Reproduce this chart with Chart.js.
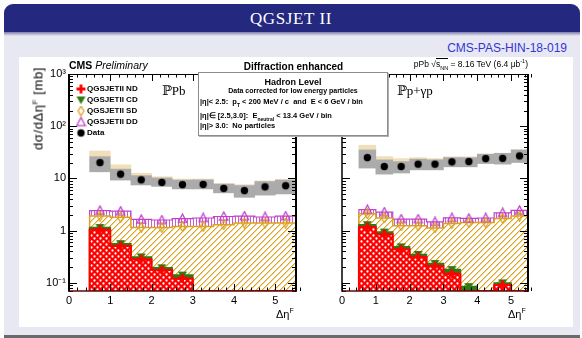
<!DOCTYPE html>
<html><head><meta charset="utf-8">
<script src="https://cdn.jsdelivr.net/npm/chart.js@4.4.0/dist/chart.umd.min.js"></script>
<style>
html,body{margin:0;padding:0;width:582px;height:338px;overflow:hidden;background:#fff;font-family:"Liberation Sans",Arial,sans-serif;}
.abs{position:absolute;}
#slide{left:4px;top:4px;width:576px;height:331px;background:#e8e8f3;border-radius:9px 9px 0 0;}
#titlebar{left:4px;top:4px;width:576px;height:28px;background:#25287f;border-radius:9px 9px 0 0;}
#shadow{left:4px;top:32px;width:576px;height:4px;background:linear-gradient(#7c7cab,#e8e8f3);}
#bottomline{left:4px;top:335px;width:576px;height:3px;background:#6a6a6a;}
#content{left:19px;top:57px;width:554px;height:270px;background:#fff;}
.t{position:absolute;line-height:1;white-space:nowrap;color:#000;}
.b{font-weight:bold;}
canvas{position:absolute;left:0;top:0;}
#hbox{left:198px;top:72px;width:188px;height:62px;background:#fff;border:1px solid #8c8c8c;box-shadow:1px 1px 0 #b0b0b0;}
sub,sup{line-height:0;}
</style>
</head><body>
<div id="slide" class="abs"></div>
<div id="titlebar" class="abs"></div>
<div id="shadow" class="abs"></div>
<div id="bottomline" class="abs"></div>
<div id="content" class="abs"></div>
<div class="t" style="left:0;width:582px;text-align:center;top:9.8px;font-family:'Liberation Serif',serif;font-size:17px;color:#fff;letter-spacing:0.6px;">QGSJET II</div>
<div class="t" style="right:15px;top:41.8px;font-size:12px;color:#3434d8;">CMS-PAS-HIN-18-019</div>

<canvas id="cL" width="582" height="338"></canvas>
<canvas id="cR" width="582" height="338"></canvas>

<div class="t" style="left:69px;top:60.1px;font-size:10.5px;"><b>CMS</b> <i>Preliminary</i></div>
<div class="t b" style="left:193.5px;width:200px;text-align:center;top:61.5px;font-size:10px;">Diffraction enhanced</div>
<div class="t" style="right:54px;top:60.2px;font-size:8.5px;">pPb <span>√</span><span style="border-top:0.8px solid #000;">s<sub style="font-size:5.5px">NN</sub></span> = 8.16 TeV (6.4 μb<sup style="font-size:5.5px">-1</sup>)</div>

<div id="hbox" class="abs"></div>
<div class="t b" style="left:198px;width:190px;text-align:center;top:78.4px;font-size:9px;">Hadron Level</div>
<div class="t b" style="left:198px;width:190px;text-align:center;top:86.6px;font-size:7px;">Data corrected for low energy particles</div>
<div class="t b" style="left:200px;top:97.9px;font-size:7.5px;">|η|&lt; 2.5:&nbsp; p<sub style="font-size:5px">T</sub> &lt; 200 MeV / c&nbsp; and&nbsp; E &lt; 6 GeV / bin</div>
<div class="t b" style="left:200px;top:111.6px;font-size:7.5px;">|η|∈ [2.5,3.0]:&nbsp; E<sub style="font-size:5px">neutral</sub> &lt; 13.4 GeV / bin</div>
<div class="t b" style="left:200px;top:121.6px;font-size:7.5px;">|η|&gt; 3.0:&nbsp; No particles</div>

<div class="t" style="left:162px;top:84px;font-family:'Liberation Serif','DejaVu Serif',serif;font-size:13px;">ℙPb</div>
<div class="t" style="left:397px;top:84px;font-family:'Liberation Serif','DejaVu Serif',serif;font-size:13px;">ℙp+γp</div>

<div class="t" style="left:-42px;top:101.5px;width:160px;text-align:center;font-size:13px;letter-spacing:0.6px;transform:rotate(-90deg);">dσ/dΔη<sup style="font-size:8px">F</sup> [mb]</div>
<div class="t" style="left:276px;top:308.6px;font-size:11px;">Δη<sup style="font-size:7px">F</sup></div>
<div class="t" style="left:508px;top:308.6px;font-size:11px;">Δη<sup style="font-size:7px">F</sup></div>

<div id="legend"></div>

<script>
// ---------- data ----------
const binEdges = [0.5,1.0,1.5,2.0,2.5,3.0,3.5,4.0,4.5,5.0,5.5];
const xTickValues = [0,1,2,3,4,5];
const yTickValues = [0.1,1,10,100,1000];
const yTickLabels = ['10⁻¹','1','10','10²','10³'];
const legendLabels = ['QGSJETII ND','QGSJETII CD','QGSJETII SD','QGSJETII DD','Data'];
const Y_MIN = 0.07, Y_MAX = 1000, X_MIN = 0, X_MAX = 5.5;

// Left panel: IPPb
const ppbData     = [20.1,12.1,9.4,8.4,7.6,7.7,6.45,5.85,6.9,7.25];
const ppbSysLow   = [13.4,9.3,7.5,7.05,6.3,6.3,5.3,4.35,4.8,5.05];
const ppbSysHigh  = [26.1,15.1,11.3,10.2,9.3,9.4,7.8,7.3,8.7,9.3];
const ppbModelTop = [33.6,18.2,12.6,10.8,9.75,9.75,8.0,7.6,9.0,9.6];
const ppbND = [1.04,0.51,0.285,0.176,0.122,0,0,0,0,0];
const ppbCD = [0.11,0.055,0.03,0.019,0.019,0,0,0,0,0];
const ppbSD = [0.75,1.235,0.835,0.955,1.06,1.2,1.3,1.4,1.4,1.4];
const ppbDD = [0.53,0.56,0.49,0.45,0.5,0.55,0.57,0.5,0.43,0.5];

// Right panel: IPp+γp
const pgpData     = [25.1,16.9,16.9,18.8,18.8,20.8,21.1,24.0,24.3,27.0];
const pgpSysLow   = [15.8,12.1,12.7,14.6,14.6,16.7,16.7,19.3,18.8,20.2];
const pgpSysHigh  = [35.1,22.7,21.0,23.4,22.7,25.1,25.0,29.1,30.3,35.1];
const pgpModelTop = [43.2,26.2,24.0,25.0,24.0,26.0,26.0,29.5,30.5,35.5];
const pgpND = [1.17,0.85,0.44,0.315,0.21,0.15,0,0,0.091,0];
const pgpCD = [0.13,0.09,0.05,0.035,0.025,0.03,0.085,0,0.009,0];
const pgpSD = [0.8,0.81,0.75,0.89,0.895,1.19,1.345,1.43,1.62,1.9];
const pgpDD = [0.42,0.52,0.43,0.43,0.35,0.39,0.29,0.32,0.48,0.55];

// ---------- styles ----------
const C_ND='#ff0000', C_CD='#2f7a12', C_SD='#dca21e', C_DD='#c040c8';
const centers = binEdges.slice(0,-1).map((e,i)=>(e+binEdges[i+1])/2);

function tile(w,h,draw){const c=document.createElement('canvas');c.width=w;c.height=h;draw(c.getContext('2d'),w,h);return c;}
function patterns(ctx){
  const nd = ctx.createPattern(tile(6,6,(g)=>{g.fillStyle=C_ND;g.fillRect(0,0,6,6);g.fillStyle='#fff';
    [[1.5,1.5],[4.5,4.5]].forEach(([x,y])=>{g.beginPath();g.arc(x,y,1.15,0,7);g.fill();});}),'repeat');
  const sd = ctx.createPattern(tile(6,6,(g)=>{g.fillStyle='#fff';g.fillRect(0,0,6,6);g.fillStyle=C_SD;
    for(let i=0;i<6;i++){g.fillRect(5-i,i,1,1);} 
    g.fillStyle='rgba(220,162,30,0.45)';for(let i=0;i<6;i++){g.fillRect((6-i)%6,i,1,1);} }),'repeat');
  const dd = ctx.createPattern(tile(3,3,(g)=>{g.fillStyle='#fff';g.fillRect(0,0,3,3);g.fillStyle='rgba(192,64,200,0.85)';g.fillRect(1,0,1,3);}),'repeat');
  return {nd,sd,dd};
}
function markerCanvas(kind){
  return tile(11,11,(g)=>{
    g.translate(5.5,5.5);
    if(kind==='plus'){g.fillStyle=C_ND;g.beginPath();
      const a=1.4,b=4.5;g.moveTo(-a,-b);g.lineTo(a,-b);g.lineTo(a,-a);g.lineTo(b,-a);g.lineTo(b,a);g.lineTo(a,a);g.lineTo(a,b);g.lineTo(-a,b);g.lineTo(-a,a);g.lineTo(-b,a);g.lineTo(-b,-a);g.lineTo(-a,-a);g.closePath();g.fill();}
    if(kind==='tdown'){g.fillStyle=C_CD;g.beginPath();g.moveTo(-4.5,-3.5);g.lineTo(4.5,-3.5);g.lineTo(0,4.2);g.closePath();g.fill();}
    if(kind==='diamond'){g.strokeStyle=C_SD;g.lineWidth=1.3;g.beginPath();g.moveTo(0,-4.8);g.lineTo(2.9,0);g.lineTo(0,4.8);g.lineTo(-2.9,0);g.closePath();g.stroke();}
    if(kind==='tup'){g.strokeStyle=C_DD;g.lineWidth=1.2;g.beginPath();g.moveTo(0,-4.6);g.lineTo(4.3,3.6);g.lineTo(-4.3,3.6);g.closePath();g.stroke();}
    if(kind==='dot'){g.fillStyle='#000';g.beginPath();g.arc(0,0,3.7,0,7);g.fill();}
  });
}
const MK = {nd:markerCanvas('plus'),cd:markerCanvas('tdown'),sd:markerCanvas('diamond'),dd:markerCanvas('tup'),data:markerCanvas('dot')};

function cumulate(...arrs){return arrs[0].map((_,i)=>arrs.reduce((s,a)=>s+a[i],0));}
function stepPts(vals){
  const n=binEdges.length-1, pts=[{x:binEdges[0],y:Y_MIN}];
  for(let i=0;i<n;i++) pts.push({x:binEdges[i],y:Math.max(vals[i],Y_MIN)});
  pts.push({x:binEdges[n],y:Math.max(vals[n-1],Y_MIN)});
  pts.push({x:binEdges[n],y:Y_MIN});
  return pts;
}
function markerPts(own,cum){return centers.map((x,i)=>({x,y:own[i]>0?cum[i]:null}));}

function buildDatasets(ctx,d){
  const P=patterns(ctx);
  const cND=d.nd, cCD=cumulate(d.nd,d.cd), cSD=cumulate(d.nd,d.cd,d.sd), cDD=cumulate(d.nd,d.cd,d.sd,d.dd);
  const step=(vals,fillPat,color,w,order)=>({type:'line',data:stepPts(vals),stepped:true,fill:'start',backgroundColor:fillPat,borderColor:color,borderWidth:w,pointRadius:0,order});
  const bar=(lo,hi,color,order)=>({type:'bar',data:centers.map((x,i)=>({x,y:[lo[i],hi[i]]})),backgroundColor:color,borderWidth:0,grouped:false,barPercentage:1,categoryPercentage:1,order});
  const mk=(pts,img,order)=>({type:'line',data:pts,showLine:false,pointStyle:img,pointRadius:5,order});
  return [
    bar(d.sysHigh,d.modelTop,'#f0dfb8',30),
    bar(d.sysLow,d.sysHigh,'#ababab',29),
    step(cDD,P.dd,C_DD,1.2,20),
    step(cSD,P.sd,C_SD,1.5,19),
    step(cCD,C_CD,C_CD,1.5,18),
    step(cND,P.nd,C_ND,2,17),
    mk(markerPts(d.dd,cDD),MK.dd,5),
    mk(markerPts(d.sd,cSD),MK.sd,4),
    mk(markerPts(d.cd,cCD),MK.cd,3),
    mk(markerPts(d.nd,cND),MK.nd,2),
    mk(centers.map((x,i)=>({x,y:d.data[i]})),MK.data,1)
  ];
}

function framePlugin(cfg){return{id:'rootFrame',afterDatasetsDraw(chart){
  const {ctx,chartArea:a,scales:{x,y}}=chart;ctx.save();ctx.strokeStyle='#000';ctx.lineWidth=1;
  const ln=(x1,y1,x2,y2)=>{ctx.beginPath();ctx.moveTo(x1,y1);ctx.lineTo(x2,y2);ctx.stroke();};
  const nMinor=Math.round((x.max-x.min)/0.2);
  for(let i=0;i<=nMinor;i++){const v=x.min+i*0.2;const px=Math.round(x.getPixelForValue(v))+0.5;
    const L=Math.abs(v-Math.round(v))<1e-6?7:3.5;ln(px,a.top,px,a.top+L);ln(px,a.bottom,px,a.bottom-L);}
  for(let dec=-2;dec<=3;dec++)for(let m=1;m<=9;m++){const v=m*Math.pow(10,dec);if(v<y.min||v>y.max*1.0001)continue;
    const py=Math.round(y.getPixelForValue(v))+0.5;const L=m===1?8:4;ln(a.left,py,a.left+L,py);ln(a.right,py,a.right-L,py);}
  ctx.lineWidth=1;ln(a.left,a.top+0.5,a.right,a.top+0.5);
  ctx.strokeStyle='#5a0a0a';ctx.lineWidth=1.5;ln(a.left,a.bottom,a.right,a.bottom);
  ctx.strokeStyle='#000';ctx.lineWidth=cfg.leftW;ln(a.left,a.top,a.left,a.bottom+0.7);
  ctx.lineWidth=2;ln(a.right,a.top,a.right,a.bottom+0.7);
  if(cfg.legend){
    const rows=[89,100,111,122,133], imgs=[MK.nd,MK.cd,MK.sd,MK.dd,MK.data];
    rows.forEach((ry,i)=>ctx.drawImage(imgs[i],81-5.5,ry-5.5));
  }
  ctx.restore();
}};}

function makeChart(id,d,area,showY,legend){
  const cv=document.getElementById(id),ctx=cv.getContext('2d');
  const fontT={family:"'Liberation Sans',Arial,sans-serif",size:11};
  const Y_W=40, X_H=20;
  return new Chart(ctx,{
    type:'line',
    data:{datasets:buildDatasets(ctx,d)},
    options:{
      responsive:false,animation:false,devicePixelRatio:1,
      layout:{padding:{left:area.left-(showY?Y_W:0),top:area.top,right:582-area.right,bottom:338-area.bottom-X_H}},
      plugins:{legend:{display:false},tooltip:{enabled:false}},
      scales:{
        x:{type:'linear',min:X_MIN,max:X_MAX,offset:false,grid:{display:false,drawTicks:false},border:{display:false},
           afterBuildTicks:(s)=>{s.ticks=xTickValues.map(v=>({value:v}));},
           afterFit:(s)=>{s.height=X_H;},
           ticks:{font:fontT,color:'#000',padding:3,maxRotation:0,autoSkip:false,callback:(v)=>String(v)}},
        y:{type:'logarithmic',min:Y_MIN,max:Y_MAX,display:showY,grid:{display:false,drawTicks:false},border:{display:false},
           afterBuildTicks:(s)=>{s.ticks=yTickValues.map(v=>({value:v}));},
           afterFit:(s)=>{s.width=Y_W;},
           ticks:{font:fontT,color:'#000',padding:3,autoSkip:false,callback:(v)=>{const i=yTickValues.findIndex(t=>Math.abs(t-v)/t<1e-6);return i>=0?yTickLabels[i]:'';}}}
      }
    },
    plugins:[framePlugin({leftW:showY?2:1.5,legend})]
  });
}

makeChart('cL',{data:ppbData,sysLow:ppbSysLow,sysHigh:ppbSysHigh,modelTop:ppbModelTop,nd:ppbND,cd:ppbCD,sd:ppbSD,dd:ppbDD},
  {left:69,top:74,right:296,bottom:291},true,true);
makeChart('cR',{data:pgpData,sysLow:pgpSysLow,sysHigh:pgpSysHigh,modelTop:pgpModelTop,nd:pgpND,cd:pgpCD,sd:pgpSD,dd:pgpDD},
  {left:302,top:74,right:528,bottom:291},false,false);

// legend text
const lg=document.getElementById('legend');
[89,100,111,122,133].forEach((ry,i)=>{const e=document.createElement('div');e.className='t b';
  e.style.cssText=`left:87px;top:${ry-5}px;font-size:8px;line-height:10px;`;e.textContent=legendLabels[i];lg.appendChild(e);});
</script>
</body></html>
